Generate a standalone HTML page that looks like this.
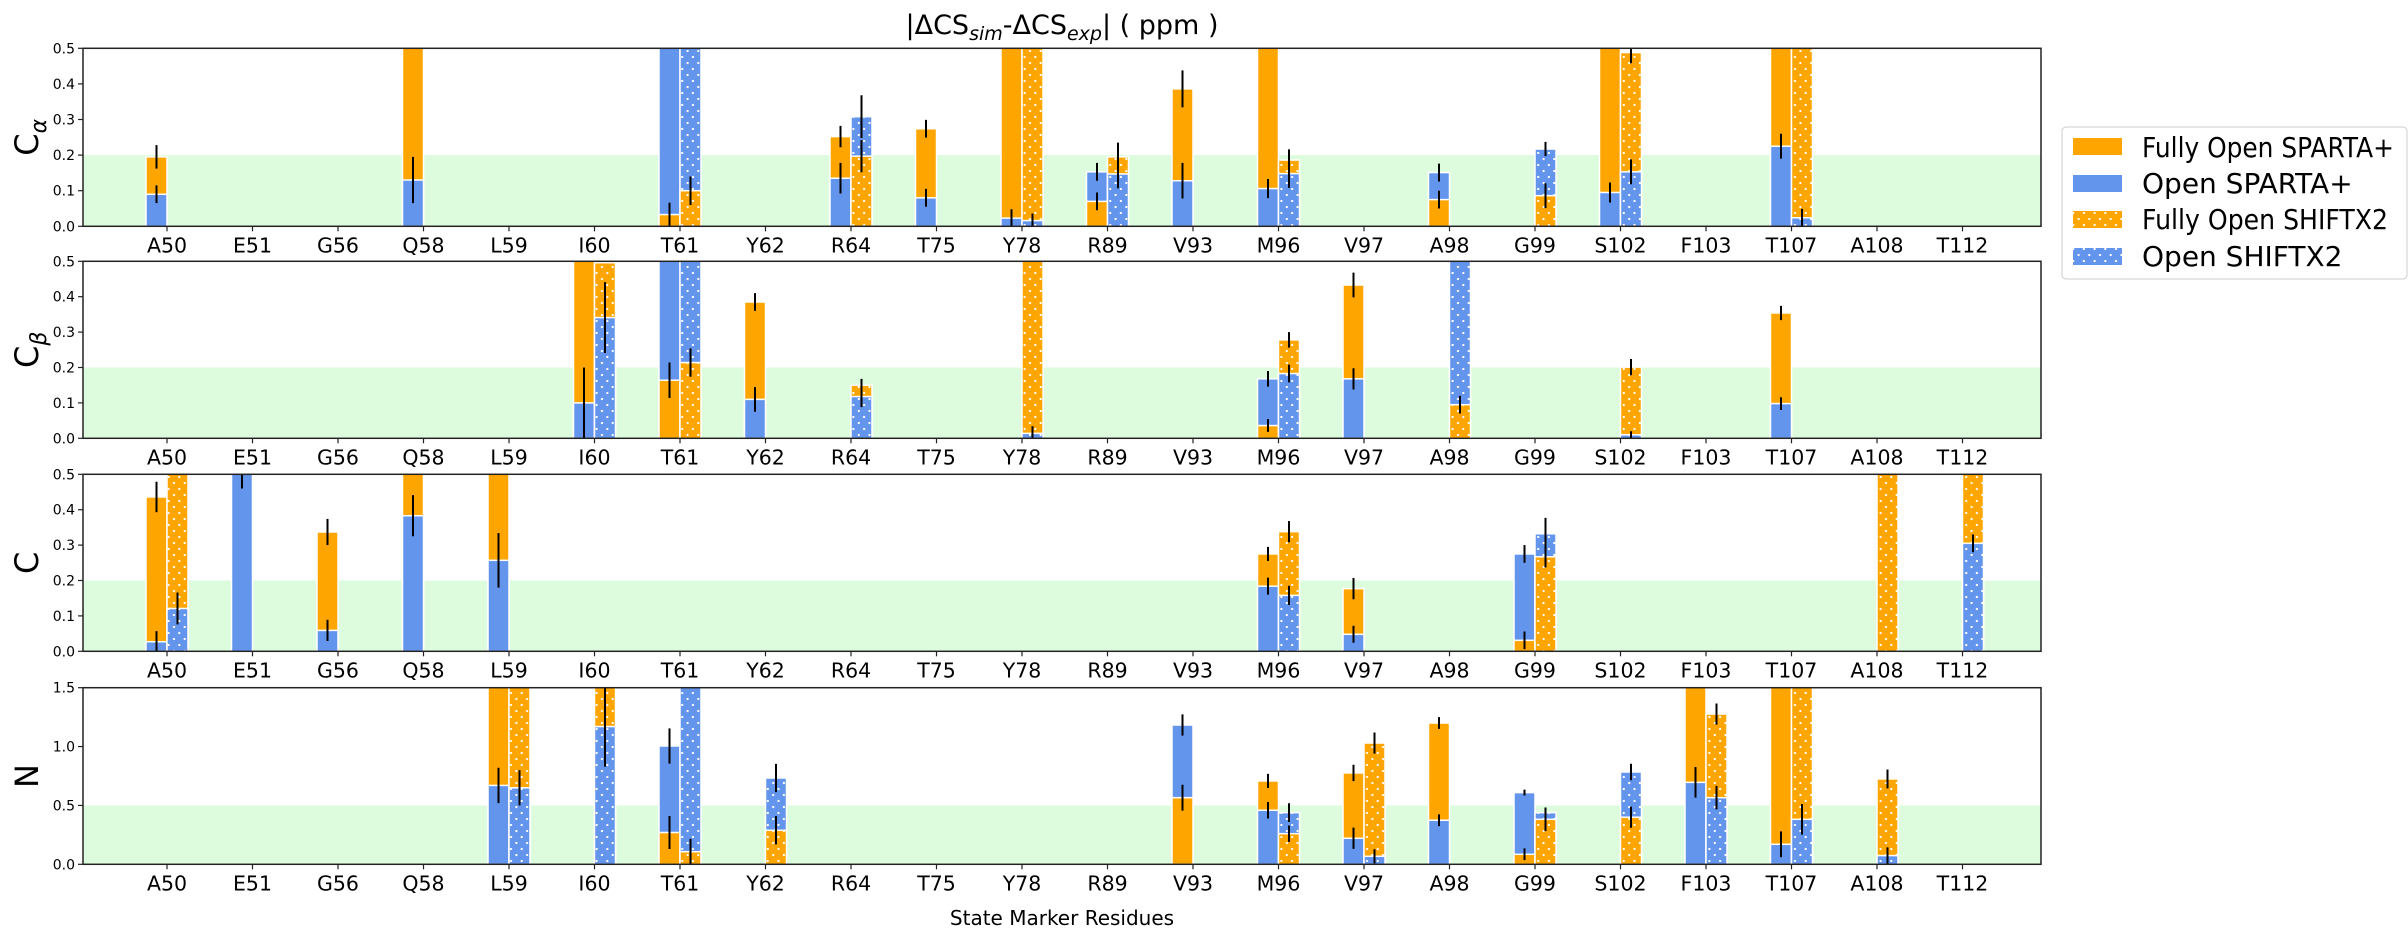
<!DOCTYPE html>
<html><head><meta charset="utf-8"><style>
body{margin:0;background:#fff;}
svg{display:block;font-family:"DejaVu Sans","Liberation Sans",sans-serif;}
</style></head><body>
<svg id="chart" width="2408" height="936" viewBox="0 0 2408 936" xmlns="http://www.w3.org/2000/svg">
<defs>
<pattern id="dots" patternUnits="userSpaceOnUse" width="10.7" height="12">
<circle cx="2.8" cy="3" r="1.15" fill="#fff"/><circle cx="8.1" cy="9" r="1.15" fill="#fff"/>
</pattern>
</defs>
<text x="1062" y="34" font-size="27" text-anchor="middle">|ΔCS<tspan font-style="italic" font-size="19" dy="6">sim</tspan><tspan dy="-6">-ΔCS</tspan><tspan font-style="italic" font-size="19" dy="6">exp</tspan><tspan dy="-6">|  ( ppm )</tspan></text>
<text x="1062" y="925" font-size="20" text-anchor="middle">State Marker Residues</text>
<g id="panels"></g>
<g>
<rect x="2062" y="127" width="345" height="152" rx="4" fill="#fff" stroke="#ccc" stroke-width="1"/>
<g><rect x="2073" y="138" width="49" height="17" fill="#FFA500"/><text x="2142" y="157" font-size="28" textLength="252" lengthAdjust="spacingAndGlyphs">Fully Open SPARTA+</text></g>
<g><rect x="2073" y="175" width="49" height="17" fill="#6495ED"/><text x="2142" y="193" font-size="28">Open SPARTA+</text></g>
<g><rect x="2073" y="211" width="49" height="17" fill="#FFA500"/><rect x="2073" y="211" width="49" height="17" fill="url(#dots)"/><text x="2142" y="229" font-size="28" textLength="246" lengthAdjust="spacingAndGlyphs">Fully Open SHIFTX2</text></g>
<g><rect x="2073" y="248" width="49" height="17" fill="#6495ED"/><rect x="2073" y="248" width="49" height="17" fill="url(#dots)"/><text x="2142" y="266" font-size="28">Open SHIFTX2</text></g>
</g>
</svg>
<script>
const residues = ["A50","E51","G56","Q58","L59","I60","T61","Y62","R64","T75","Y78","R89","V93","M96","V97","A98","G99","S102","F103","T107","A108","T112"];
const N_ = null;
// C-alpha
const caSpFull    = [0.195,N_,N_,0.62,N_,N_,0.033,N_,0.252,0.274,0.62,0.07,0.386,0.62,N_,0.075,N_,0.62,N_,0.62,N_,N_];
const caSpFullErr = [0.033,0,0,0,0,0,0.033,0,0.03,0.025,0,0.025,0.052,0,0,0.025,0,0,0,0,0,0];
const caSpOpen    = [0.09,N_,N_,0.13,N_,N_,0.62,N_,0.135,0.08,0.023,0.153,0.128,0.106,N_,0.151,N_,0.095,N_,0.225,N_,N_];
const caSpOpenErr = [0.025,0,0,0.065,0,0,0,0,0.043,0.025,0.025,0.025,0.05,0.027,0,0.025,0,0.028,0,0.035,0,0];
const caSxFull    = [N_,N_,N_,N_,N_,N_,0.10,N_,0.197,N_,0.62,0.195,N_,0.186,N_,N_,0.086,0.488,N_,0.62,N_,N_];
const caSxFullErr = [0,0,0,0,0,0,0.04,0,0.045,0,0,0.04,0,0.03,0,0,0.035,0.03,0,0,0,0];
const caSxOpen    = [N_,N_,N_,N_,N_,N_,0.62,N_,0.308,N_,0.016,0.147,N_,0.148,N_,N_,0.217,0.153,N_,0.024,N_,N_];
const caSxOpenErr = [0,0,0,0,0,0,0,0,0.06,0,0.02,0.04,0,0.04,0,0,0.02,0.035,0,0.025,0,0];
// C-beta
const cbSpFull    = [N_,N_,N_,N_,N_,0.62,0.164,0.385,N_,N_,N_,N_,N_,0.036,0.433,N_,N_,N_,N_,0.354,N_,N_];
const cbSpFullErr = [0,0,0,0,0,0,0.05,0.025,0,0,0,0,0,0.018,0.035,0,0,0,0,0.02,0,0];
const cbSpOpen    = [N_,N_,N_,N_,N_,0.10,0.62,0.11,N_,N_,N_,N_,N_,0.168,0.168,N_,N_,N_,N_,0.098,N_,N_];
const cbSpOpenErr = [0,0,0,0,0,0.10,0,0.035,0,0,0,0,0,0.022,0.03,0,0,0,0,0.018,0,0];
const cbSxFull    = [N_,N_,N_,N_,N_,0.496,0.214,N_,0.15,N_,0.62,N_,N_,0.278,N_,0.095,N_,0.201,N_,N_,N_,N_];
const cbSxFullErr = [0,0,0,0,0,0,0.04,0,0.018,0,0,0,0,0.022,0,0.025,0,0.023,0,0,0,0];
const cbSxOpen    = [N_,N_,N_,N_,N_,0.341,0.62,N_,0.118,N_,0.014,N_,N_,0.183,N_,0.62,N_,0.01,N_,N_,N_,N_];
const cbSxOpenErr = [0,0,0,0,0,0.1,0,0,0.03,0,0.02,0,0,0.025,0,0,0,0.01,0,0,0,0];
// C
const cSpFull     = [0.436,N_,0.337,0.62,0.62,N_,N_,N_,N_,N_,N_,N_,N_,0.275,0.177,N_,0.031,N_,N_,N_,N_,N_];
const cSpFullErr  = [0.043,0,0.037,0,0,0,0,0,0,0,0,0,0,0.02,0.03,0,0.025,0,0,0,0,0];
const cSpOpen     = [0.027,0.52,0.059,0.383,0.257,N_,N_,N_,N_,N_,N_,N_,N_,0.184,0.048,N_,0.275,N_,N_,N_,N_,N_];
const cSpOpenErr  = [0.03,0.06,0.03,0.058,0.077,0,0,0,0,0,0,0,0,0.024,0.024,0,0.025,0,0,0,0,0];
const cSxFull     = [0.62,N_,N_,N_,N_,N_,N_,N_,N_,N_,N_,N_,N_,0.338,N_,N_,0.267,N_,N_,N_,0.62,0.62];
const cSxFullErr  = [0,0,0,0,0,0,0,0,0,0,0,0,0,0.03,0,0,0.03,0,0,0,0,0];
const cSxOpen     = [0.121,N_,N_,N_,N_,N_,N_,N_,N_,N_,N_,N_,N_,0.158,N_,N_,0.332,N_,N_,N_,N_,0.305];
const cSxOpenErr  = [0.045,0,0,0,0,0,0,0,0,0,0,0,0,0.027,0,0,0.045,0,0,0,0,0.025];
// N
const nSpFull     = [N_,N_,N_,N_,1.9,N_,0.27,N_,N_,N_,N_,N_,0.566,0.708,0.776,1.2,0.085,N_,1.55,1.9,N_,N_];
const nSpFullErr  = [0,0,0,0,0,0,0.14,0,0,0,0,0,0.11,0.06,0.07,0.05,0.05,0,0.05,0,0,0];
const nSpOpen     = [N_,N_,N_,N_,0.67,N_,1.005,N_,N_,N_,N_,N_,1.183,0.459,0.221,0.374,0.609,N_,0.696,0.17,N_,N_];
const nSpOpenErr  = [0,0,0,0,0.15,0,0.15,0,0,0,0,0,0.09,0.07,0.09,0.05,0.025,0,0.13,0.11,0,0];
const nSxFull     = [N_,N_,N_,N_,1.9,1.9,0.107,0.289,N_,N_,N_,N_,N_,0.26,1.03,N_,0.382,0.4,1.276,1.9,0.725,N_];
const nSxFullErr  = [0,0,0,0,0,0,0.11,0.12,0,0,0,0,0,0.07,0.09,0,0.1,0.09,0.09,0,0.08,0];
const nSxOpen     = [N_,N_,N_,N_,0.65,1.17,1.9,0.733,N_,N_,N_,N_,N_,0.439,0.068,N_,0.439,0.784,0.566,0.382,0.074,N_];
const nSxOpenErr  = [0,0,0,0,0.15,0.34,0,0.12,0,0,0,0,0,0.08,0.06,0,0.03,0.07,0.1,0.13,0.07,0];

const panelDefs = [
 {name:"calpha", label:'C<tspan font-size="22" font-style="italic" dy="8">α</tspan>', top:48.3, bot:226.3, ymax:0.5, shade:0.2, ticks:[0,0.1,0.2,0.3,0.4,0.5],
  spF:caSpFull, spFE:caSpFullErr, spO:caSpOpen, spOE:caSpOpenErr, sxF:caSxFull, sxFE:caSxFullErr, sxO:caSxOpen, sxOE:caSxOpenErr},
 {name:"cbeta", label:'C<tspan font-size="22" font-style="italic" dy="8">β</tspan>', top:261.3, bot:438.3, ymax:0.5, shade:0.2, ticks:[0,0.1,0.2,0.3,0.4,0.5],
  spF:cbSpFull, spFE:cbSpFullErr, spO:cbSpOpen, spOE:cbSpOpenErr, sxF:cbSxFull, sxFE:cbSxFullErr, sxO:cbSxOpen, sxOE:cbSxOpenErr},
 {name:"carbonyl", label:'C', top:474.3, bot:651.3, ymax:0.5, shade:0.2, ticks:[0,0.1,0.2,0.3,0.4,0.5],
  spF:cSpFull, spFE:cSpFullErr, spO:cSpOpen, spOE:cSpOpenErr, sxF:cSxFull, sxFE:cSxFullErr, sxO:cSxOpen, sxOE:cSxOpenErr},
 {name:"nitrogen", label:'N', top:687.7, bot:864.3, ymax:1.5, shade:0.5, ticks:[0,0.5,1.0,1.5],
  spF:nSpFull, spFE:nSpFullErr, spO:nSpOpen, spOE:nSpOpenErr, sxF:nSxFull, sxFE:nSxFullErr, sxO:nSxOpen, sxOE:nSxOpenErr}
];

const NS="http://www.w3.org/2000/svg";
const X0=83, X1=2041, BW=21;
function xPos(i){return 167+85.5*i;}
function mk(tag,attrs,parent){const e=document.createElementNS(NS,tag);for(const k in attrs)e.setAttribute(k,attrs[k]);parent.appendChild(e);return e;}
const root=document.getElementById('panels');

panelDefs.forEach((p,pi)=>{
  const yPos=v=>p.bot-v/p.ymax*(p.bot-p.top);
  const g=mk('g',{},root);
  
  
  const clip=mk('clipPath',{id:'clip'+pi},g);
  mk('rect',{x:X0,y:p.top,width:X1-X0,height:p.bot-p.top},clip);
  const shade=mk('rect',{x:X0,y:yPos(p.shade),width:X1-X0,height:p.bot-yPos(p.shade),fill:'#ddfcdd'},g);
  
  
  const bars=mk('g',{'clip-path':'url(#clip'+pi+')'},g);
  const errs=mk('g',{'clip-path':'url(#clip'+pi+')'},g);
  residues.forEach((r,i)=>{
    const groups=[
      {x:xPos(i)-BW, full:p.spF[i], fullE:p.spFE[i], open:p.spO[i], openE:p.spOE[i], hatch:false, tag:'sparta'},
      {x:xPos(i), full:p.sxF[i], fullE:p.sxFE[i], open:p.sxO[i], openE:p.sxOE[i], hatch:true, tag:'shiftx2'}
    ];
    groups.forEach(gr=>{
      const items=[];
      if(gr.full!=null) items.push({v:gr.full,e:gr.fullE,c:'#FFA500',n:'fully-open'});
      if(gr.open!=null) items.push({v:gr.open,e:gr.openE,c:'#6495ED',n:'open'});
      items.sort((a,b)=>b.v-a.v);
      items.forEach(it=>{
        const y=yPos(it.v);
        const b=mk('rect',{x:gr.x,y:y,width:BW,height:p.bot-y,fill:it.c,stroke:'#fff','stroke-width':1.5},bars);
        
        
        if(gr.hatch){mk('rect',{x:gr.x,y:y,width:BW,height:p.bot-y,fill:'url(#dots)'},bars);}
        if(it.e>0){
          const cx=gr.x+BW/2;
          const l=mk('line',{x1:cx,x2:cx,y1:yPos(it.v+it.e),y2:yPos(Math.max(0,it.v-it.e)),stroke:'#000','stroke-width':2},errs);
          
          
        }
      });
    });
    mk('line',{x1:xPos(i),x2:xPos(i),y1:p.bot,y2:p.bot+5,stroke:'#222','stroke-width':1.2},g);
    const t=mk('text',{x:xPos(i),y:p.bot+26,'font-size':20.5,'text-anchor':'middle'},g);
    t.textContent=r;
    
    
  });
  p.ticks.forEach(v=>{
    mk('line',{x1:X0-5,x2:X0,y1:yPos(v),y2:yPos(v),stroke:'#222','stroke-width':1.2},g);
    const t=mk('text',{x:X0-8,y:yPos(v)+5,'font-size':14,'text-anchor':'end'},g);
    t.textContent=v.toFixed(1);
    
    
  });
  mk('rect',{x:X0,y:p.top,width:X1-X0,height:p.bot-p.top,fill:'none',stroke:'#222','stroke-width':1.5},g);
  const cy=(p.top+p.bot)/2;
  const yl=mk('text',{x:0,y:0,'font-size':32,'text-anchor':'middle',transform:'translate(38,'+cy+') rotate(-90)'},g);
  yl.innerHTML=p.label;
  
  
});
</script>
</body></html>
